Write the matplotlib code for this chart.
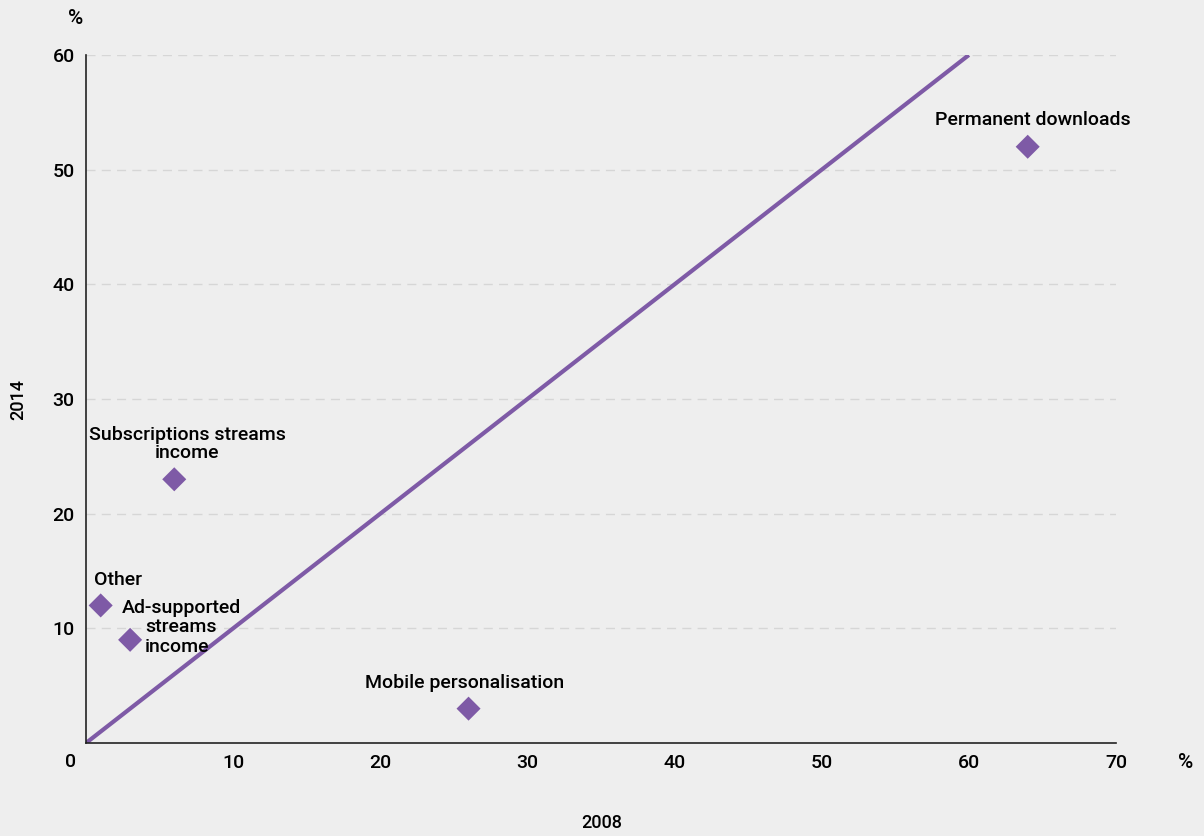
import matplotlib
matplotlib.use("Agg")
import matplotlib.pyplot as plt

# --------------------------------------------------
# DATA (share of digital revenue, %)
# --------------------------------------------------
labels = ["Permanent downloads", "Mobile personalisation",
          "Subscriptions streams\nincome", "Other", "Ad-supported"]
share_2008 = [64, 26, 6, 1, 3]
share_2014 = [52, 3, 23, 12, 9]
diag_x = [0, 60]
diag_y = [0, 60]
xticks = [10, 20, 30, 40, 50, 60, 70]
yticks = [10, 20, 30, 40, 50, 60]

purple = "#7e5aa6"
bg = "#eeeeee"
plt.rcParams['font.family'] = ['Roboto', 'DejaVu Sans']
plt.rcParams['font.weight'] = 'medium'

fig = plt.figure(figsize=(12.04, 8.36), dpi=100, facecolor=bg)
ax = fig.add_axes([0.0714, 0.1112, 0.8555, 0.8230])
ax.set_facecolor(bg)

ax.set_xlim(0, 70)
ax.set_ylim(0, 60)

# grid
for y in yticks:
    ax.axhline(y, color="#d6d6d6", lw=1, ls=(0, (6.5, 4.5)), zorder=0)

ax.plot(diag_x, diag_y, color=purple, lw=3, zorder=2, solid_capstyle='butt')
ax.scatter(share_2008, share_2014, marker="D", s=150, color=purple,
           edgecolor="none", zorder=3)

# point labels
offsets = [(5, 27, "center"), (-4, 26, "center"), (13, 35, "center"),
           (-7, 25, "left"), (-8, 32, "left")]
for lab, x, y, (dx, dy, ha) in zip(labels, share_2008, share_2014, offsets):
    ax.annotate(lab, (x, y), xytext=(dx, dy), textcoords="offset pixels",
                ha=ha, va="center", fontsize=14, linespacing=1.0)
ax.annotate("streams\nincome", (share_2008[4], share_2014[4]), xytext=(15, 3),
            textcoords="offset pixels", ha="left", va="center",
            fontsize=14, linespacing=1.1)

for s in ["top", "right"]:
    ax.spines[s].set_visible(False)
for s in ["left", "bottom"]:
    ax.spines[s].set_color("#222222")
    ax.spines[s].set_linewidth(1.2)

ax.set_xticks(xticks)
ax.set_yticks(yticks)
ax.tick_params(length=0, labelsize=14, pad=8)

fig.text(0.0582, 0.0885, "0", fontsize=14, ha="center", va="center")
fig.text(0.063, 0.978, "%", fontsize=15, ha="center", va="center")
fig.text(0.985, 0.0875, "%", fontsize=15, ha="center", va="center")
fig.text(0.015, 0.522, "2014", fontsize=13, ha="center", va="center", rotation=90)
fig.text(0.5, 0.015, "2008", fontsize=13, ha="center", va="center")

fig.savefig("out.png", dpi=100, facecolor=bg)
